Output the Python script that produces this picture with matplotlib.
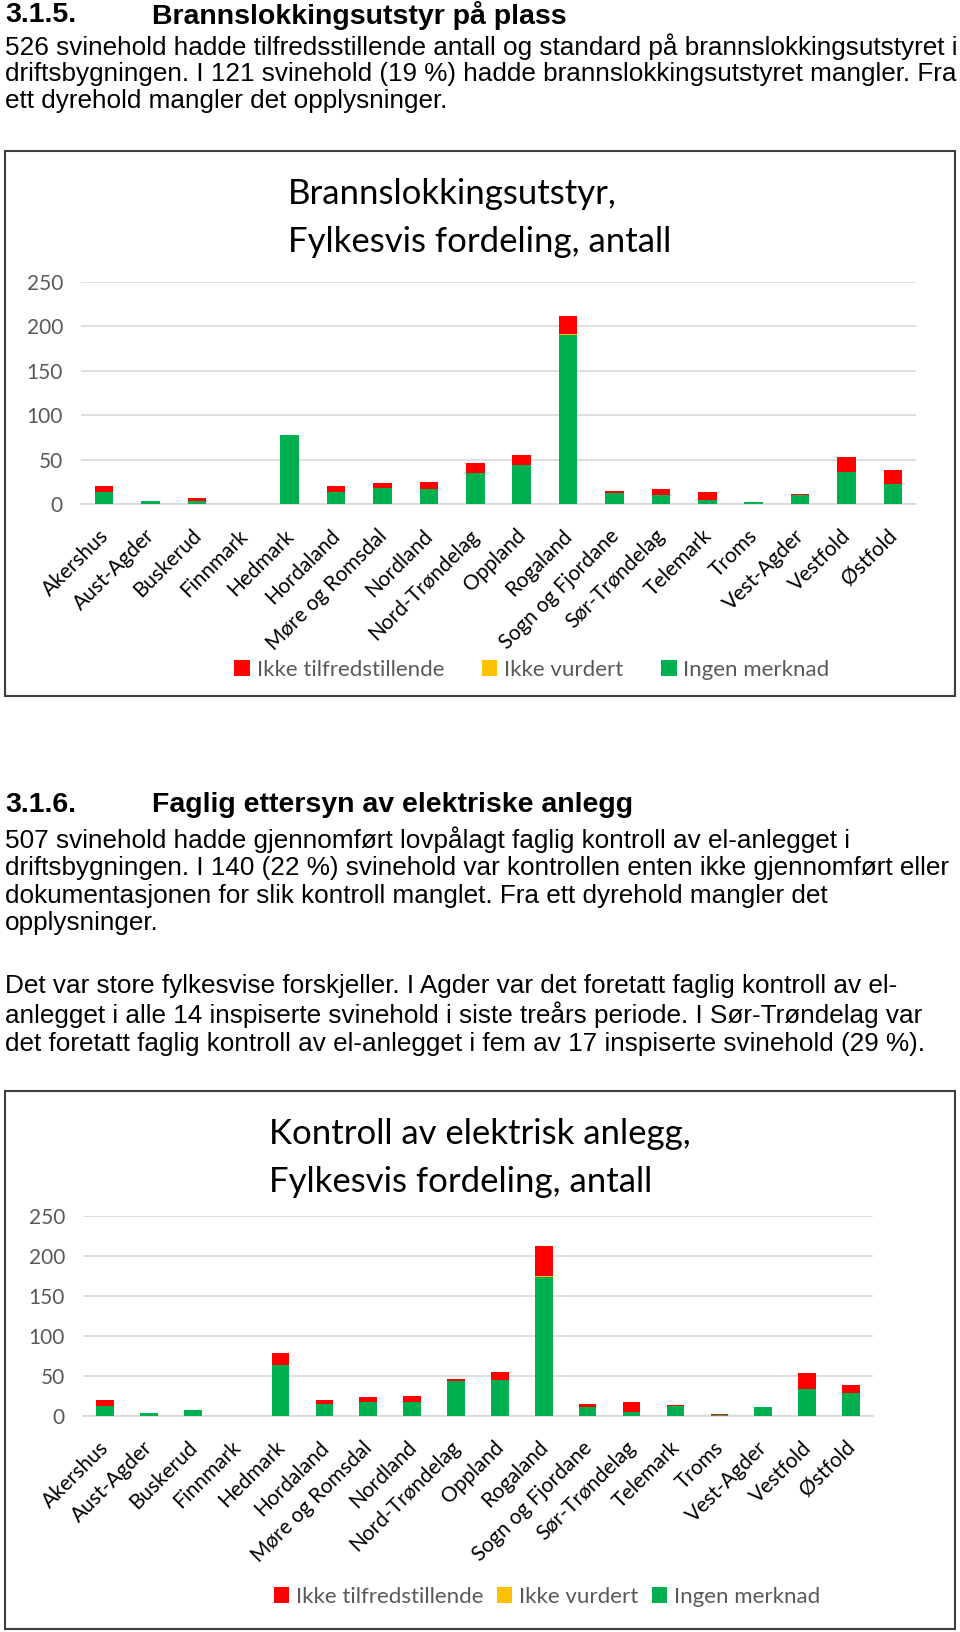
import matplotlib.pyplot as plt
from matplotlib.patches import Rectangle
from matplotlib.transforms import ScaledTranslation

W, H = 960, 1632

fylker = ['Akershus', 'Aust-Agder', 'Buskerud', 'Finnmark', 'Hedmark', 'Hordaland',
          'Møre og Romsdal', 'Nordland', 'Nord-Trøndelag', 'Oppland', 'Rogaland',
          'Sogn og Fjordane', 'Sør-Trøndelag', 'Telemark', 'Troms', 'Vest-Agder',
          'Vestfold', 'Østfold']

# Brannslokkingsutstyr
brann_ingen = [14, 3, 3, 0, 78, 14, 18, 17, 35, 44, 190, 12, 10, 4, 2, 10, 36, 23]
brann_vurdert = [0, 0, 0, 0, 0, 0, 0, 0, 0, 0, 1, 0, 0, 0, 0, 0, 0, 0]
brann_ikke = [6, 0, 4, 0, 0, 6, 6, 8, 11, 11, 21, 3, 7, 10, 0, 1, 17, 15]

# Kontroll av elektrisk anlegg
el_ingen = [12, 3, 7, 0, 64, 15, 17, 17, 44, 45, 173, 11, 5, 12, 1, 11, 34, 29]
el_vurdert = [0, 0, 0, 0, 0, 0, 0, 0, 0, 0, 2, 0, 0, 0, 0, 0, 0, 0]
el_ikke = [8, 0, 0, 0, 14, 5, 7, 8, 2, 10, 37, 4, 12, 2, 1, 0, 19, 9]

serie_navn = ['Ikke tilfredstillende', 'Ikke vurdert', 'Ingen merknad']
RED, YELLOW, GREEN = '#FF0000', '#FFC000', '#00B050'
GREY = '#595959'
CHART_FONT = 'Lato'
BODY_FONT = 'Liberation Sans'

tekst1 = ['526 svinehold hadde tilfredsstillende antall og standard på brannslokkingsutstyret i',
          'driftsbygningen. I 121 svinehold (19 %) hadde brannslokkingsutstyret mangler. Fra',
          'ett dyrehold mangler det opplysninger.']
tekst2 = ['507 svinehold hadde gjennomført lovpålagt faglig kontroll av el-anlegget i',
          'driftsbygningen. I 140 (22 %) svinehold var kontrollen enten ikke gjennomført eller',
          'dokumentasjonen for slik kontroll manglet. Fra ett dyrehold mangler det',
          'opplysninger.']
tekst3 = ['Det var store fylkesvise forskjeller. I Agder var det foretatt faglig kontroll av el-',
          'anlegget i alle 14 inspiserte svinehold i siste treårs periode. I Sør-Trøndelag var',
          'det foretatt faglig kontroll av el-anlegget i fem av 17 inspiserte svinehold (29 %).']


def fx(x):
    return x / W


def fy(y):
    return 1 - y / H


def heading(fig, y, nummer, overskrift):
    fig.text(fx(5), fy(y), nummer, fontsize=20.5, fontweight='bold', family=BODY_FONT, va='center')
    fig.text(fx(152), fy(y), overskrift, fontsize=20.5, fontweight='bold', family=BODY_FONT, va='center')


def paragraph(fig, y, linjer, step=27.8):
    for i, linje in enumerate(linjer):
        fig.text(fx(5), fy(y + i * step), linje, fontsize=18.8, family=BODY_FONT, va='center')


def chart(fig, box, plot, title_xy, title, ingen, vurdert, ikke, legend_xy, colspace):
    x0, y0, x1, y1 = box
    fig.patches.append(Rectangle((fx(x0), fy(y1)), fx(x1 - x0), (y1 - y0) / H,
                                 transform=fig.transFigure, fill=False,
                                 edgecolor='#3f3f3f', linewidth=1.5))
    px0, py_top, px1, py_bot = plot
    ax = fig.add_axes([fx(px0), fy(py_bot), fx(px1 - px0), (py_bot - py_top) / H])
    x = list(range(len(fylker)))
    bunn2 = [a + b for a, b in zip(ingen, vurdert)]
    b1 = ax.bar(x, ingen, width=0.4, color=GREEN, zorder=3)
    b2 = ax.bar(x, vurdert, width=0.4, bottom=ingen, color=YELLOW, zorder=3)
    b3 = ax.bar(x, ikke, width=0.4, bottom=bunn2, color=RED, zorder=3)
    ax.set_xlim(-0.5, len(fylker) - 0.5)
    ax.set_ylim(0, 250)
    ax.set_yticks([0, 50, 100, 150, 200, 250])
    ax.yaxis.grid(True, color='#d9d9d9', linewidth=1.2)
    for s in ['top', 'right', 'left']:
        ax.spines[s].set_visible(False)
    ax.spines['bottom'].set_color('#d9d9d9')
    ax.spines['bottom'].set_linewidth(1.2)
    ax.tick_params(length=0)
    ax.tick_params(axis='y', pad=13, labelsize=15, labelcolor=GREY)
    ax.set_xticks(x)
    ax.set_xticklabels(fylker, rotation=45, ha='right', va='top', rotation_mode='anchor',
                       fontsize=15, family=CHART_FONT)
    ax.tick_params(axis='x', pad=12)
    # flytt etikettene litt ned og til venstre
    flytt = ScaledTranslation(-6 / 100, -5 / 100, fig.dpi_scale_trans)
    for lab in ax.get_xticklabels():
        lab.set_transform(lab.get_transform() + flytt)
    for lab in ax.get_yticklabels():
        lab.set_family(CHART_FONT)
    for linje, ty in zip(title.split('\n'), title_xy[1]):
        fig.text(fx(title_xy[0]), fy(ty), linje, fontsize=25, family=CHART_FONT, va='center')
    fig.legend([b3, b2, b1], serie_navn, loc='center',
               bbox_to_anchor=(fx(legend_xy[0]), fy(legend_xy[1])), ncol=3, frameon=False,
               handlelength=0.7, handleheight=0.7, handletextpad=0.3, columnspacing=colspace,
               prop={'family': CHART_FONT, 'size': 16}, labelcolor=GREY)


def main():
    fig = plt.figure(figsize=(W / 100, H / 100), dpi=100)
    heading(fig, 15, '3.1.5.', 'Brannslokkingsutstyr på plass')
    paragraph(fig, 47, tekst1, step=27)
    chart(fig, (5, 151, 955, 696), (81, 282, 916, 504), (288, (194, 242)),
          'Brannslokkingsutstyr,\nFylkesvis fordeling, antall',
          brann_ingen, brann_vurdert, brann_ikke, (532, 670), 1.7)
    heading(fig, 805, '3.1.6.', 'Faglig ettersyn av elektriske anlegg')
    paragraph(fig, 840, tekst2)
    paragraph(fig, 986, tekst3, step=29)
    chart(fig, (5, 1091, 955, 1629), (83, 1215.7, 873, 1415.7), (269, (1134, 1182)),
          'Kontroll av elektrisk anlegg,\nFylkesvis fordeling, antall',
          el_ingen, el_vurdert, el_ikke, (547, 1597), 0.6)
    fig.savefig('out.png', dpi=100)


if __name__ == "__main__":
    main()
